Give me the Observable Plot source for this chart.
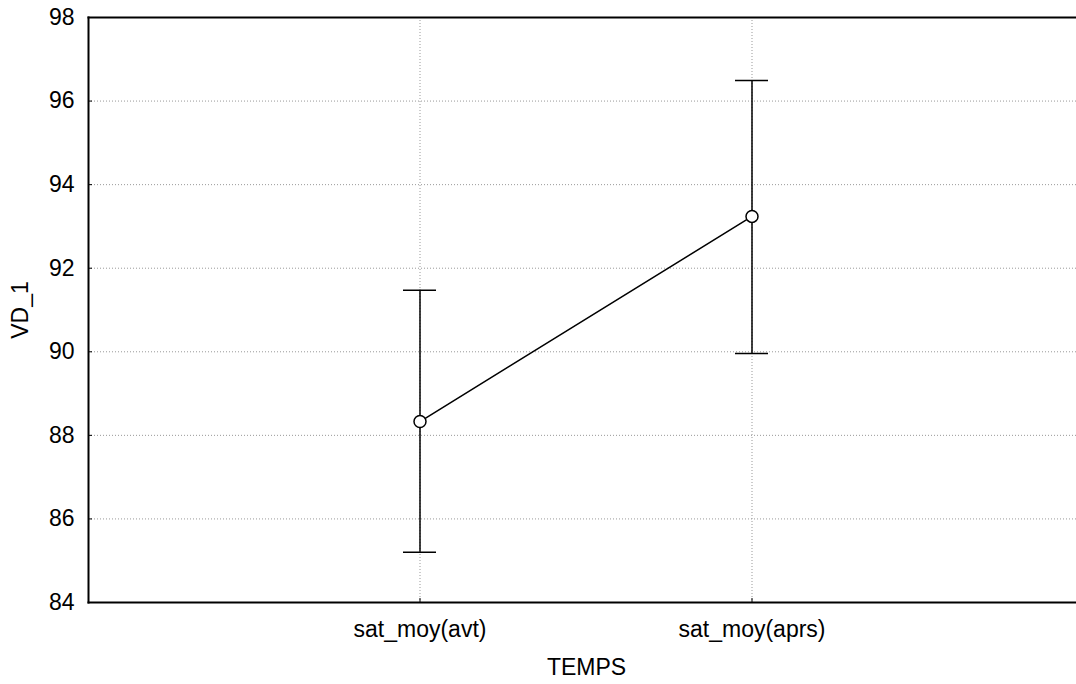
<!DOCTYPE html>
<html>
<head>
<meta charset="utf-8">
<script src="https://cdn.jsdelivr.net/npm/d3@7"></script>
<script src="https://cdn.jsdelivr.net/npm/@observablehq/plot@0.6"></script>
<style>
  html, body { margin: 0; padding: 0; background: #fff; }
  #chart svg { display: block; }
</style>
</head>
<body>
<div id="chart"></div>
<script>
const categories = ["sat_moy(avt)", "sat_moy(aprs)"];
const means = [88.33, 93.24];
const upper = [91.47, 96.49];
const lower = [85.20, 89.96];
const yDomain = [84, 98];
const yTicks = [84, 86, 88, 90, 92, 94, 96, 98];
const xLabel = "TEMPS";
const yLabel = "VD_1";

const data = categories.map((c, i) => ({cat: c, mean: means[i], hi: upper[i], lo: lower[i]}));

const chart = Plot.plot({
  width: 1076,
  height: 684,
  marginLeft: 88,
  marginRight: -8,
  marginTop: 17,
  marginBottom: 82,
  style: {fontFamily: "'Liberation Sans', Arial, sans-serif", fontSize: "23px", color: "#000", background: "#fff", overflow: "hidden"},
  x: {type: "band", domain: categories, paddingInner: 0.9, paddingOuter: 0.95},
  y: {domain: yDomain},
  marks: [
    Plot.gridY(yTicks.slice(1, -1), {stroke: "#999", strokeOpacity: 1, strokeDasharray: "1,2"}),
    Plot.gridX(categories, {stroke: "#999", strokeOpacity: 1, strokeDasharray: "1,2"}),
    Plot.axisY(yTicks, {tickSize: -4, tickPadding: 18, fontSize: 23, label: yLabel, labelAnchor: "center", labelOffset: 77, labelArrow: "none", stroke: "#000"}),
    Plot.axisX(categories, {tickSize: -4, tickPadding: 22, fontSize: 23, label: xLabel, labelAnchor: "center", labelOffset: 72, labelArrow: "none", stroke: "#000"}),
    Plot.frame({anchor: "left", stroke: "#000", strokeWidth: 2}),
    Plot.frame({anchor: "top", stroke: "#000", strokeWidth: 2}),
    Plot.frame({anchor: "bottom", stroke: "#000", strokeWidth: 2}),
    Plot.ruleX(data, {x: "cat", y1: "lo", y2: "hi", stroke: "#000", strokeWidth: 1.5}),
    Plot.tickY(data, {x: "cat", y: "hi", stroke: "#000", strokeWidth: 1.5}),
    Plot.tickY(data, {x: "cat", y: "lo", stroke: "#000", strokeWidth: 1.5}),
    Plot.line(data, {x: "cat", y: "mean", stroke: "#000", strokeWidth: 1.5}),
    Plot.dot(data, {x: "cat", y: "mean", r: 6, fill: "#fff", stroke: "#000", strokeWidth: 1.5})
  ]
});
document.getElementById("chart").appendChild(chart);
</script>
</body>
</html>
